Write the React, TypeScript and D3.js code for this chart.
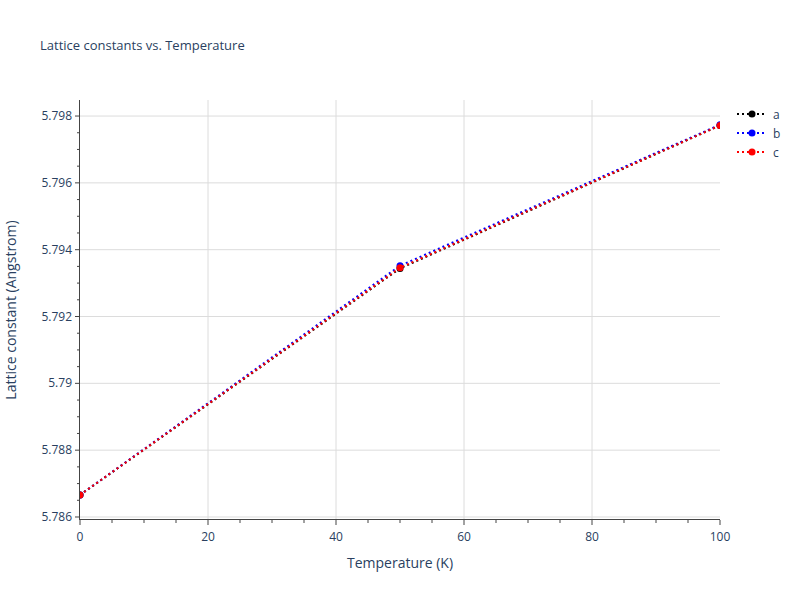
import React from "react";
import * as d3 from "d3";

const temperatures = [0, 50, 100];
const seriesA = [5.78666, 5.79344, 5.79772];
const seriesB = [5.78666, 5.79352, 5.79774];
const seriesC = [5.78666, 5.79346, 5.79772];
const seriesNames = ["a", "b", "c"];
const seriesColors = ["black", "blue", "red"];
const xTicks = [0, 20, 40, 60, 80, 100];
const yTicks = [5.786, 5.788, 5.79, 5.792, 5.794, 5.796, 5.798];
const yTickLabels = ["5.786", "5.788", "5.79", "5.792", "5.794", "5.796", "5.798"];

const W = 800, H = 600;
const M = { l: 80, r: 80, t: 100, b: 80 };
const FONT = '"Open Sans", verdana, arial, sans-serif';
const TXT = "#2a3f5f";

export default function App() {
  const x = d3.scaleLinear().domain([0, 100]).range([M.l, W - M.r]);
  const y = d3.scaleLinear().domain([5.78591, 5.79848]).range([H - M.b, M.t]);
  const all = [seriesA, seriesB, seriesC];
  const line = d3.line<number>().x((_, i) => x(temperatures[i])).y((d) => y(d));
  const minorX = d3.range(0, 100.01, 5).filter((v) => v % 20 !== 0);
  const minorY = d3.range(0, 25).map((i) => 5.786 + i * 0.0005).filter((v, i) => i % 4 !== 0 && v <= 5.7984);
  const bottom = H - M.b;
  return (
    <svg width={W} height={H} style={{ position: "absolute", left: 0, top: 0 }} fontFamily={FONT}>
      <rect width={W} height={H} fill="white" />
      <text x={40} y={50} fontSize={13} fill={TXT}>Lattice constants vs. Temperature</text>
      {xTicks.slice(1, -1).map((t) => (
        <line key={"gx" + t} x1={x(t)} x2={x(t)} y1={M.t} y2={bottom} stroke="#dcdcdc" strokeWidth={1} />
      ))}
      {yTicks.map((t) => (
        <line key={"gy" + t} x1={M.l} x2={W - M.r} y1={y(t)} y2={y(t)} stroke="#dcdcdc" strokeWidth={1} />
      ))}
      <line x1={M.l} x2={W - M.r} y1={bottom - 0.5} y2={bottom - 0.5} stroke="#444" strokeWidth={1} />
      <line x1={M.l - 0.5} x2={M.l - 0.5} y1={M.t} y2={bottom} stroke="#444" strokeWidth={1} />
      {xTicks.map((t) => (
        <g key={"xt" + t}>
          <line x1={x(t)} x2={x(t)} y1={bottom} y2={bottom + 5} stroke="#444" />
          <text x={x(t)} y={bottom + 21} fontSize={12} fill={TXT} textAnchor="middle">{t}</text>
        </g>
      ))}
      {minorX.map((t) => (
        <line key={"mx" + t} x1={x(t)} x2={x(t)} y1={bottom} y2={bottom + 3} stroke="#444" />
      ))}
      {yTicks.map((t, i) => (
        <g key={"yt" + t}>
          <line x1={M.l - 5} x2={M.l} y1={y(t)} y2={y(t)} stroke="#444" />
          <text x={M.l - 8} y={y(t) + 4} fontSize={12} fill={TXT} textAnchor="end">{yTickLabels[i]}</text>
        </g>
      ))}
      {minorY.map((t) => (
        <line key={"my" + t} x1={M.l - 3} x2={M.l} y1={y(t)} y2={y(t)} stroke="#444" />
      ))}
      <text x={(M.l + W - M.r) / 2} y={568} fontSize={14} fill={TXT} textAnchor="middle">Temperature (K)</text>
      <text transform={`translate(16,${(M.t + bottom) / 2}) rotate(-90)`} fontSize={14} fill={TXT} textAnchor="middle">Lattice constant (Angstrom)</text>
      <defs>
        <clipPath id="plotclip">
          <rect x={M.l} y={M.t} width={W - M.l - M.r} height={bottom - M.t} />
        </clipPath>
      </defs>
      <g clipPath="url(#plotclip)">
        {all.map((s, k) => (
          <g key={"s" + k}>
            <path d={line(s) || ""} fill="none" stroke={seriesColors[k]} strokeWidth={2} strokeDasharray="2,3" />
            {s.map((v, i) => (
              <circle key={i} cx={x(temperatures[i])} cy={y(v)} r={3.5} fill={seriesColors[k]} />
            ))}
          </g>
        ))}
      </g>
      {seriesNames.map((n, k) => (
        <g key={"lg" + n} transform={`translate(737,${114 + k * 19})`}>
          <line x1={0} x2={30} y1={0} y2={0} stroke={seriesColors[k]} strokeWidth={2} strokeDasharray="2,3" />
          <circle cx={15} cy={0} r={3.5} fill={seriesColors[k]} />
          <text x={36} y={4.5} fontSize={12} fill={TXT}>{n}</text>
        </g>
      ))}
    </svg>
  );
}
